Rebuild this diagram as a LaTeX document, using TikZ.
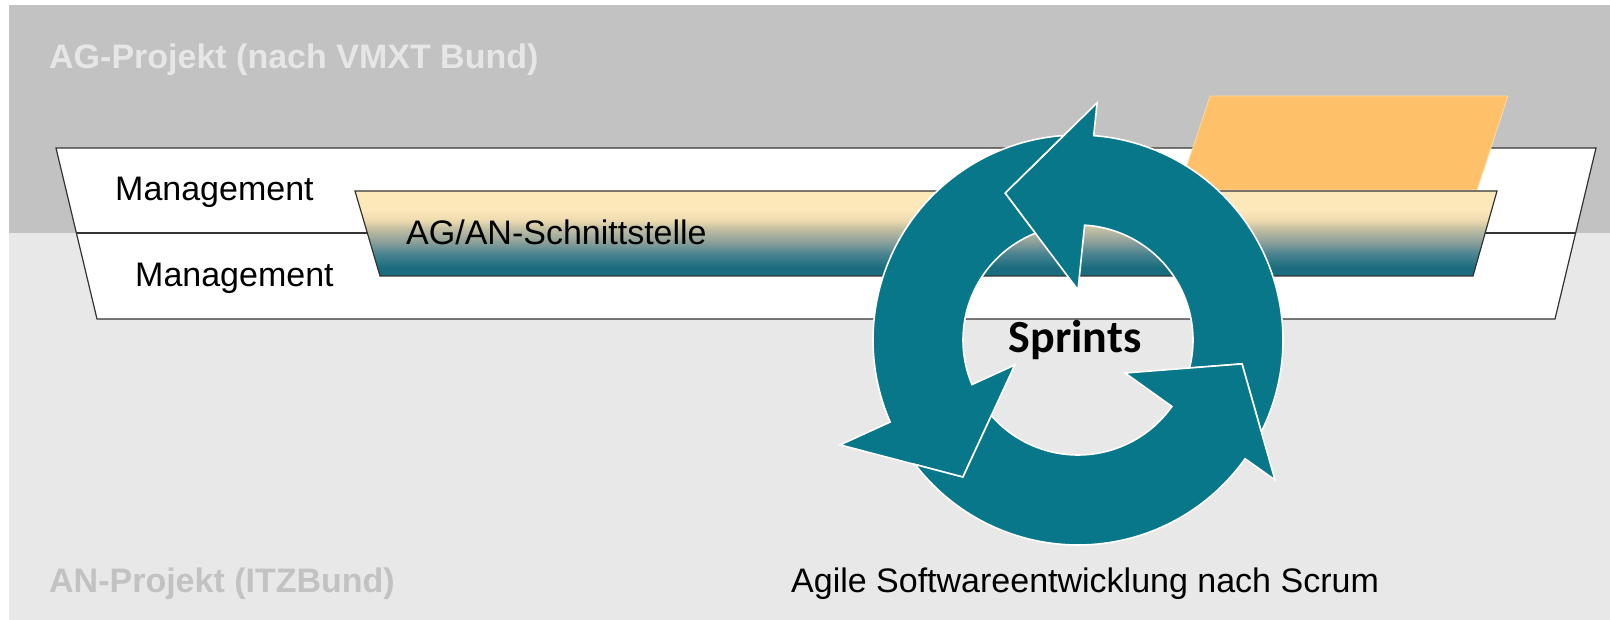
\documentclass[tikz,border=0pt]{standalone}
\usepackage{fontspec}
\setmainfont{Liberation Sans}
\newfontfamily\calibrifont{Carlito}
\usetikzlibrary{calc}
\definecolor{topgray}{HTML}{C2C2C2}
\definecolor{botgray}{HTML}{E8E8E8}
\definecolor{titlecol}{HTML}{E6E6E6}
\definecolor{ancol}{HTML}{C2C2C2}
\definecolor{edgecol}{HTML}{333333}
\definecolor{orangec}{HTML}{FEC068}
\definecolor{teal}{HTML}{077789}
\definecolor{peach}{HTML}{FCE8B9}
\definecolor{peach2}{HTML}{EEDCB0}
\definecolor{beige}{HTML}{C4BFA2}
\definecolor{grayteal}{HTML}{93A39C}
\definecolor{midteal}{HTML}{4A8390}
\definecolor{darkteal}{HTML}{1A6D7E}
\pgfdeclareverticalshading{schnitt}{100bp}{color(0bp)=(darkteal); color(30bp)=(darkteal); color(38bp)=(midteal); color(46bp)=(grayteal); color(53bp)=(beige); color(58bp)=(peach2); color(64bp)=(peach); color(100bp)=(peach)}
\tikzset{
  bigtxt/.style={font=\fontsize{34}{40}\selectfont, inner sep=0pt, anchor=base west},
  bandbox/.style={fill=white, draw=edgecol, line width=1.2pt, line join=miter},
  ringarrow/.style={fill=teal, draw=white, line width=1.6pt, line join=miter}
}
\begin{document}
\begin{tikzpicture}[x=1pt,y=1pt]
\useasboundingbox (0,0) rectangle (1610,620);
% background
\fill[white] (0,0) rectangle (1610,620);
\fill[topgray] (9,387) rectangle (1610,615);
\fill[botgray] (9,0) rectangle (1610,387);
% titles
\node[bigtxt, text=titlecol, font=\fontsize{34}{40}\selectfont\bfseries] (agtitle) at (49,551) {AG-Projekt (nach VMXT Bund)};
\node[bigtxt, text=ancol, font=\fontsize{34}{40}\selectfont\bfseries] (antitle) at (49,27) {AN-Projekt (ITZBund)};
% outer management band
\coordinate (oTL) at (56,472);
\coordinate (oTR) at (1596,472);
\coordinate (oBR) at (1555,301);
\coordinate (oBL) at (97,301);
\draw[bandbox] (oTL) -- (oTR) -- (oBR) -- (oBL) -- cycle;
\coordinate (dL) at ($(oTL)!0.497!(oBL)$);
\coordinate (dR) at ($(oTR)!0.497!(oBR)$);
\draw[edgecol, line width=1.2pt] (dL) -- (dR);
\node[bigtxt] (mgmt1) at (115,419) {Management};
\node[bigtxt] (mgmt2) at (135,333) {Management};
% orange parallelogram
\coordinate (gTL) at (1210,524);
\coordinate (gTR) at (1508,524);
\coordinate (gBR) at (1477,430);
\coordinate (gBL) at (1179,430);
\fill[orangec, draw=orangec!60!white, line width=0.8pt] (gTL) -- (gTR) -- (gBR) -- (gBL) -- cycle;
% AG/AN interface band
\coordinate (sTL) at (355,429);
\coordinate (sTR) at (1497,429);
\coordinate (sBR) at (1473,344);
\coordinate (sBL) at (380,344);
\shade[shading=schnitt] (sTL) -- (sTR) -- (sBR) -- (sBL) -- cycle;
\draw[edgecol, line width=1.2pt, line join=miter] (sTL) -- (sTR) -- (sBR) -- (sBL) -- cycle;
\node[bigtxt] (schnitt) at (406,375) {AG/AN-Schnittstelle};
% cycle of three arrows
\coordinate (C) at (1078,280);
\coordinate (PoT) at ($(C)+(19.1,237.2)$);
\coordinate (TT) at ($(C)+(-72.9,146.9)$);
\coordinate (PiT) at ($(C)+(0,50)$);
\coordinate (PoL) at ($(C)+(-237.9,-104.9)$);
\coordinate (TL) at ($(C)+(-115.1,-137.1)$);
\coordinate (PiL) at ($(C)+(-63.2,-25.0)$);
\coordinate (PoR) at ($(C)+(197,-140)$);
\coordinate (TR) at ($(C)+(164,-23.9)$);
\coordinate (PiR) at ($(C)+(47,-33)$);
% right arrow (head at top)
\draw[ringarrow] ($(C)+(-26.6:205)$) arc[start angle=-26.6, end angle=85.6, radius=205]
  -- (PoT) -- (TT) -- (PiT) -- ($(C)+(86.7:115)$)
  arc[start angle=86.7, end angle=-14.1, radius=115] -- (TR) -- cycle;
% left arrow (head at bottom left)
\draw[ringarrow] ($(C)+(94:205)$) arc[start angle=94, end angle=203.6, radius=205]
  -- (PoL) -- (TL) -- (PiL) -- ($(C)+(202.8:115)$)
  arc[start angle=202.8, end angle=111.8, radius=115] -- (TT) -- cycle;
% bottom arrow (head at bottom right)
\draw[ringarrow] ($(C)+(217.4:205)$) arc[start angle=217.4, end angle=324.6, radius=205]
  -- (PoR) -- (TR) -- (PiR) -- ($(C)+(324.7:115)$)
  arc[start angle=324.7, end angle=221.1, radius=115] -- (TL) -- cycle;
\node[inner sep=0pt, anchor=base, font=\calibrifont\bfseries\fontsize{46}{50}\selectfont] (sprints) at (1075,267) {Sprints};
\node[bigtxt] (agile) at (791,27) {Agile Softwareentwicklung nach Scrum};
\end{tikzpicture}
\end{document}
